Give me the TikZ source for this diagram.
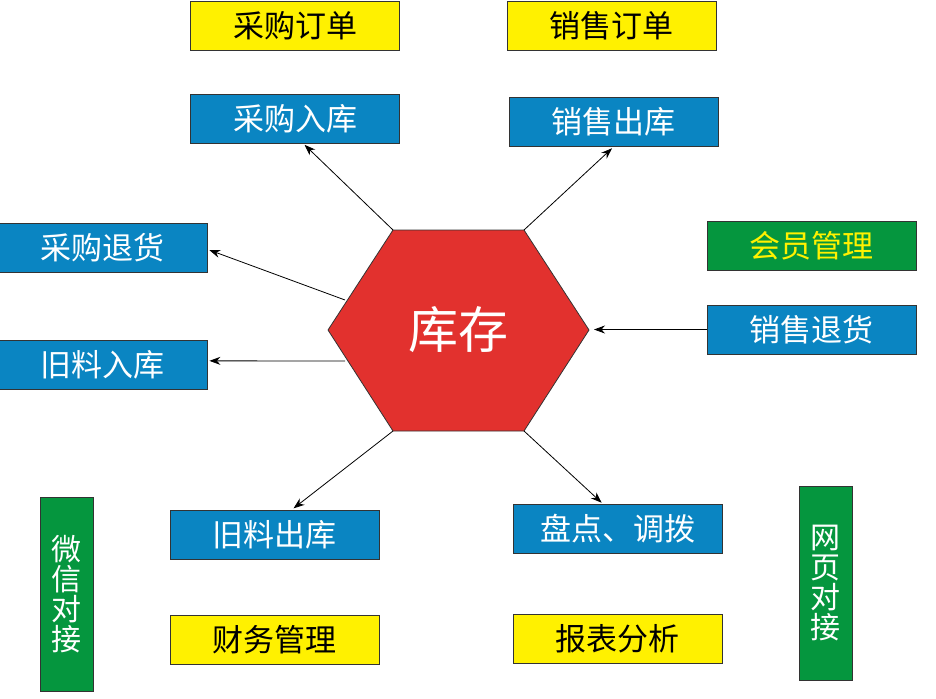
\documentclass[tikz,border=0pt]{standalone}
\usepackage{fontspec}
\setmainfont{Noto Sans CJK SC}
\usetikzlibrary{arrows.meta}
\definecolor{boxyellow}{HTML}{FFF100}
\definecolor{boxblue}{HTML}{0A85C2}
\definecolor{boxgreen}{HTML}{05963E}
\definecolor{hexred}{HTML}{E2312E}

\begin{document}
\begin{tikzpicture}
  [x=1pt,y=-1pt,
   every node/.style={draw=black!80,line width=0.8pt,inner sep=0pt,font=\fontsize{31}{31}\selectfont},
   order/.style={fill=boxyellow,text=black,minimum width=209pt,minimum height=49pt},
   flow/.style={fill=boxblue,text=white,minimum width=209pt,minimum height=49pt},
   extra/.style={fill=boxgreen,text=boxyellow,minimum width=209pt,minimum height=49pt},
   port/.style={fill=boxgreen,text=white,minimum width=53pt,minimum height=194pt,align=center,font=\fontsize{30}{30}\selectfont},
   link/.style={line width=0.8pt,-{Stealth[length=11pt,width=8pt]}}]
  \useasboundingbox (0,0) rectangle (936,698);
  % hexagon
  \coordinate (hl) at (328,330);
  \coordinate (htl) at (393,230);
  \coordinate (htr) at (524,230);
  \coordinate (hr) at (589,330);
  \coordinate (hbr) at (524,431);
  \coordinate (hbl) at (393,431);
  \coordinate (hl1) at (345,300);
  \coordinate (hl2) at (345,361);
  \coordinate (hr1) at (592,329.5);
  \draw[fill=hexred,draw=black!80,line width=0.8pt] (hl) -- (htl) -- (htr) -- (hr) -- (hbr) -- (hbl) -- cycle;
  \node[draw=none,text=white,font=\fontsize{50}{50}\selectfont] (stock) at (458.5,330) {库存};
  % boxes
  \node[order] (cgdd) at (295,25.5) {采购订单};
  \node[order] (xsdd) at (611.5,25.5) {销售订单};
  \node[flow] (cgrk) at (295,118.5) {采购入库};
  \node[flow] (xsck) at (613.5,122) {销售出库};
  \node[flow] (cgth) at (102.5,247.5) {采购退货};
  \node[extra] (hygl) at (811.5,245.5) {会员管理};
  \node[flow] (xsth) at (811.5,329.5) {销售退货};
  \node[flow] (jlrk) at (102.5,364.5) {旧料入库};
  \node[flow] (jlck) at (274.5,534.5) {旧料出库};
  \node[flow] (pddb) at (617.5,529) {盘点、调拨};
  \node[order] (cwgl) at (274.5,639.5) {财务管理};
  \node[order] (bbfx) at (617.5,638.5) {报表分析};
  \node[port] (wxdj) at (66.5,594) {微\\信\\对\\接};
  \node[port] (wydj) at (825.5,583) {网\\页\\对\\接};
  % arrows
  \foreach \from/\to in {htl/cgrk.-72,htr/xsck.south,hl1/cgth.-1,hl2/jlrk.2,hbl/jlck.55,hbr/pddb.120,xsth.west/hr1}
    \draw[link,shorten >=2pt] (\from) -- (\to);
\end{tikzpicture}
\end{document}
